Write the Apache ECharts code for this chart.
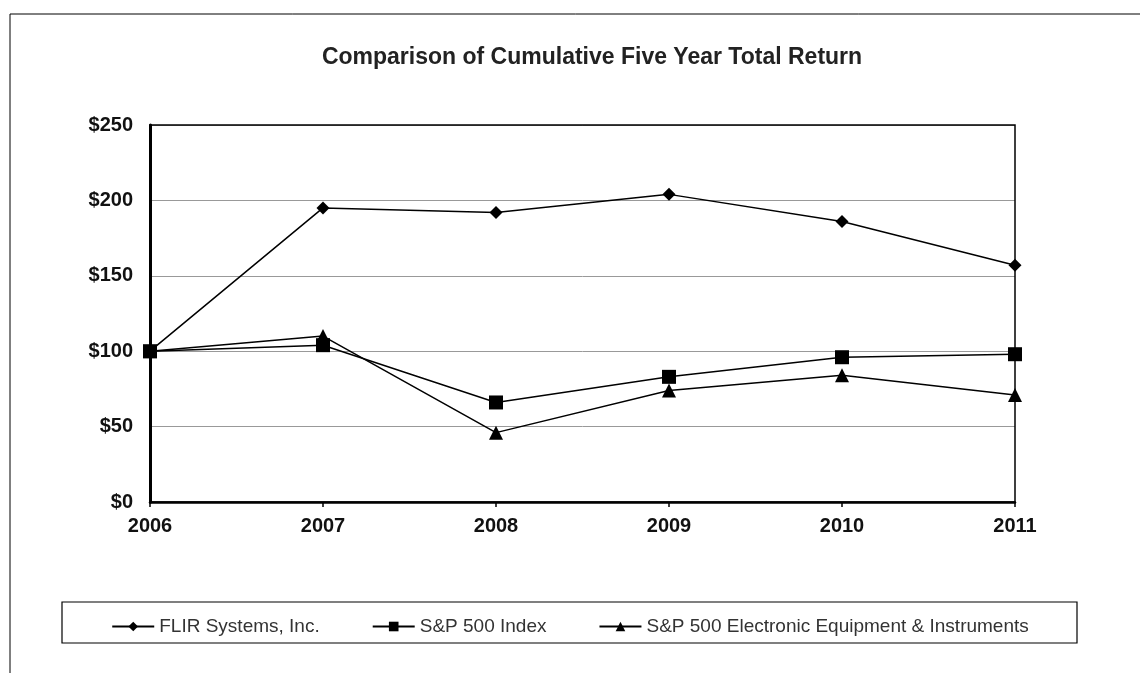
<!DOCTYPE html>
<html>
<head>
<meta charset="utf-8">
<script src="https://cdn.jsdelivr.net/npm/echarts@6/dist/echarts.min.js"></script>
<style>html,body{margin:0;padding:0;background:#fff;}#c{width:1140px;height:673px;}</style>
</head>
<body>
<div id="c"></div>
<script>
const years = ['2006', '2007', '2008', '2009', '2010', '2011'];
const flir = [100, 195, 192, 204, 186, 157];
const sp500 = [100, 104, 66, 83, 96, 98];
const electronic = [100, 110, 46, 74, 84, 71];
const yTicks = [0, 50, 100, 150, 200, 250];

const chart = echarts.init(document.getElementById('c'));
const font = '"Liberation Sans", Arial, sans-serif';
function mk(name, data, symbol, size) {
  return {
    name: name, type: 'line', data: data, symbol: symbol, symbolSize: size,
    itemStyle: { color: '#000' }, lineStyle: { color: '#000', width: 1.5 },
    animation: false
  };
}
chart.setOption({
  backgroundColor: '#fff',
  animation: false,
  title: {
    text: 'Comparison of Cumulative Five Year Total Return',
    left: 587, top: 41, textAlign: 'center',
    textStyle: { fontFamily: font, fontSize: 23, fontWeight: 'bold', color: '#222' }
  },
  graphic: [
    { type: 'rect', shape: { x: 10, y: 14, width: 1200, height: 700 }, style: { fill: 'none', stroke: '#000', lineWidth: 1 }, z: -1 },
    { type: 'rect', shape: { x: 62, y: 602, width: 1015, height: 41 }, style: { fill: 'none', stroke: '#000', lineWidth: 1.2 }, z: -1 },
    { type: 'rect', shape: { x: 150, y: 125, width: 865, height: 377 }, style: { fill: 'none', stroke: '#000', lineWidth: 1.5 }, z: 10, silent: true }
  ],
  legend: {
    left: 'center', top: 612, itemGap: 52, itemWidth: 42, itemHeight: 12,
    textStyle: { fontFamily: font, fontSize: 19, color: '#333' },
    data: ['FLIR Systems, Inc.', 'S&P 500 Index', 'S&P 500 Electronic Equipment & Instruments']
  },
  grid: { left: 150, right: 125, top: 125, bottom: 171 },
  xAxis: {
    type: 'category', data: years, boundaryGap: false,
    axisLine: { lineStyle: { color: '#000', width: 2.5 } },
    axisTick: { show: true, length: 5, lineStyle: { color: '#000', width: 1.5 } },
    axisLabel: { fontFamily: font, fontSize: 20, fontWeight: 'bold', color: '#111', margin: 14 }
  },
  yAxis: {
    type: 'value', min: 0, max: 250, interval: 50,
    axisLine: { show: true, lineStyle: { color: '#000', width: 3 } },
    axisTick: { show: false },
    splitLine: { lineStyle: { color: '#999', width: 1 } },
    axisLabel: {
      fontFamily: font, fontSize: 20, fontWeight: 'bold', color: '#111', margin: 17,
      formatter: function (v) { return yTicks.indexOf(v) >= 0 ? '$' + v : ''; }
    }
  },
  series: [
    mk('FLIR Systems, Inc.', flir, 'diamond', 13),
    mk('S&P 500 Index', sp500, 'rect', 14),
    mk('S&P 500 Electronic Equipment & Instruments', electronic, 'triangle', 14)
  ]
});
</script>
</body>
</html>
